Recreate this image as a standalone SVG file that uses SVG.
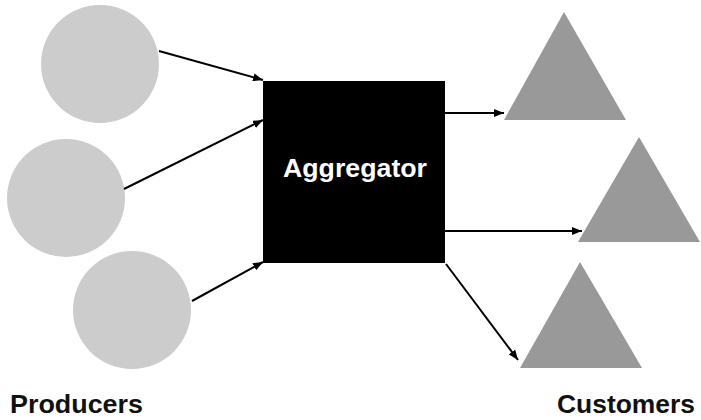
<svg xmlns="http://www.w3.org/2000/svg" width="701" height="420" viewBox="0 0 701 420">
  <style>
    .producer { fill: #cccccc; }
    .customer { fill: #999999; }
    .edge { stroke: #000; stroke-width: 2; fill: none; marker-end: url(#arrow); }
    .label { font-family: "Liberation Sans", Arial, sans-serif; font-weight: bold; font-size: 25px; fill: #111; }
    .title { font-family: "Liberation Sans", Arial, sans-serif; font-weight: bold; font-size: 26px; fill: #fff; }
  </style>
  <defs>
    <marker id="arrow" viewBox="0 0 10 8" refX="10" refY="4" markerWidth="10" markerHeight="8" markerUnits="userSpaceOnUse" orient="auto">
      <path d="M0,0 L10,4 L0,8 z" fill="#000"/>
    </marker>
  </defs>

  <rect width="701" height="420" fill="#fff"/>

  <!-- producers -->
  <g id="producer1"><circle class="producer" cx="100" cy="64" r="59"/></g>
  <g id="producer2"><circle class="producer" cx="66" cy="198" r="59"/></g>
  <g id="producer3"><circle class="producer" cx="132" cy="310" r="59"/></g>

  <!-- aggregator -->
  <g id="aggregator">
    <rect x="263" y="81" width="182" height="182" fill="#000"/>
    <text class="title" x="355" y="177" text-anchor="middle" textLength="144" lengthAdjust="spacingAndGlyphs">Aggregator</text>
  </g>

  <!-- customers -->
  <g id="customer1"><polygon class="customer" points="564,12 626,120 504,120"/></g>
  <g id="customer2"><polygon class="customer" points="639,137 700,242 578,242"/></g>
  <g id="customer3"><polygon class="customer" points="580,262 642,368 520,368"/></g>

  <!-- connectors -->
  <g id="connectors">
    <line class="edge" x1="159" y1="51" x2="263" y2="80"/>
    <line class="edge" x1="124" y1="189" x2="263" y2="120"/>
    <line class="edge" x1="192" y1="301" x2="263" y2="262"/>
    <line class="edge" x1="445" y1="113" x2="504" y2="113"/>
    <line class="edge" x1="445" y1="231" x2="582" y2="231"/>
    <line class="edge" x1="446" y1="264" x2="518" y2="360"/>
  </g>

  <!-- captions -->
  <g id="producers-label"><text class="label" x="10" y="413" textLength="133" lengthAdjust="spacingAndGlyphs">Producers</text></g>
  <g id="customers-label"><text class="label" x="557" y="413" textLength="138" lengthAdjust="spacingAndGlyphs">Customers</text></g>
</svg>
